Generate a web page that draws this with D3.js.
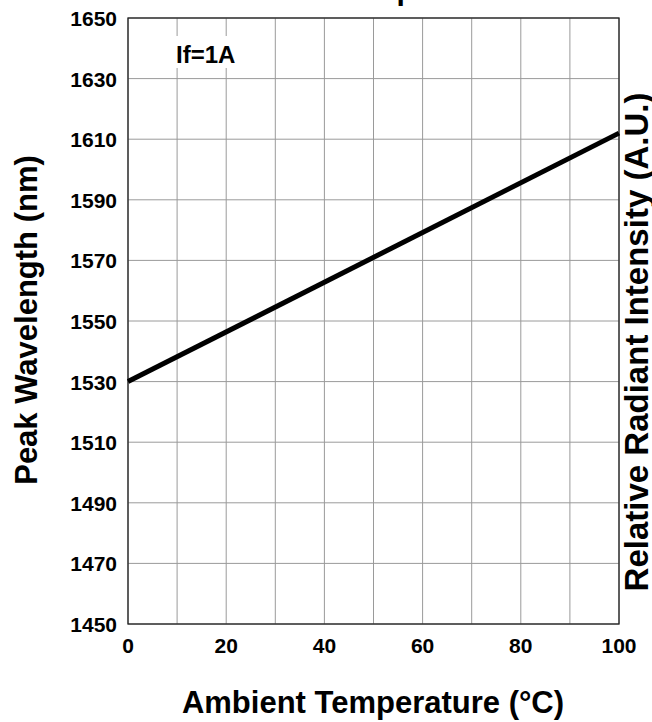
<!DOCTYPE html>
<html>
<head>
<meta charset="utf-8">
<script src="https://cdn.jsdelivr.net/npm/d3@7.9.0/dist/d3.min.js"></script>
<style>
  body { margin: 0; background: #fff; }
  svg text { font-family: "Liberation Sans", Arial, sans-serif; font-weight: bold; fill: #000; }
</style>
</head>
<body>
<svg id="chart" width="652" height="722"></svg>
<script>
// data
const temps = [0, 100];
const wavelength = [1530, 1612];
const xTicks = [0, 20, 40, 60, 80, 100];
const xGrid = d3.range(0, 101, 10);
const yTicks = [1450, 1470, 1490, 1510, 1530, 1550, 1570, 1590, 1610, 1630, 1650];

const svg = d3.select("#chart");
const m = { left: 128, right: 619, top: 18, bottom: 624 };

const x = d3.scaleLinear().domain([0, 100]).range([m.left, m.right]);
const y = d3.scaleLinear().domain([1450, 1650]).range([m.bottom, m.top]);

// grid
svg.append("g").selectAll("line").data(xGrid).join("line")
  .attr("x1", d => x(d)).attr("x2", d => x(d))
  .attr("y1", m.top).attr("y2", m.bottom)
  .attr("stroke", "#9a9a9a").attr("stroke-width", 1);
svg.append("g").selectAll("line").data(yTicks).join("line")
  .attr("x1", m.left).attr("x2", m.right)
  .attr("y1", d => y(d)).attr("y2", d => y(d))
  .attr("stroke", "#9a9a9a").attr("stroke-width", 1);

// label box over grid
svg.append("rect").attr("x", 168).attr("y", 36).attr("width", 80).attr("height", 32).attr("fill", "#fff");
svg.append("text").attr("x", 176).attr("y", 63).attr("font-size", 24).text("If=1A");

// frame
svg.append("rect").attr("x", m.left).attr("y", m.top)
  .attr("width", m.right - m.left).attr("height", m.bottom - m.top)
  .attr("fill", "none").attr("stroke", "#222").attr("stroke-width", 1.3);

// tick labels
svg.append("g").selectAll("text").data(yTicks).join("text")
  .attr("x", 117).attr("y", d => y(d) + 8)
  .attr("text-anchor", "end").attr("font-size", 21)
  .text(d => d);
svg.append("g").selectAll("text").data(xTicks).join("text")
  .attr("x", d => x(d)).attr("y", 653)
  .attr("text-anchor", "middle").attr("font-size", 21)
  .text(d => d);

// series line
const line = d3.line().x((d, i) => x(temps[i])).y(d => y(d));
svg.append("path").datum(wavelength)
  .attr("d", line)
  .attr("fill", "none").attr("stroke", "#000").attr("stroke-width", 5);

// axis titles
svg.append("text").attr("transform", "translate(37,320) rotate(-90)")
  .attr("text-anchor", "middle").attr("font-size", 31).text("Peak Wavelength (nm)");
svg.append("text").attr("transform", "translate(648,342) rotate(-90)")
  .attr("text-anchor", "middle").attr("font-size", 33).text("Relative Radiant Intensity (A.U.)");
svg.append("text").attr("x", 373).attr("y", 713)
  .attr("text-anchor", "middle").attr("font-size", 31).text("Ambient Temperature (°C)");

// cropped title (only descender visible)
svg.append("text").attr("x", 337).attr("y", 0).attr("font-size", 30).text("Temperature");
</script>
</body>
</html>
